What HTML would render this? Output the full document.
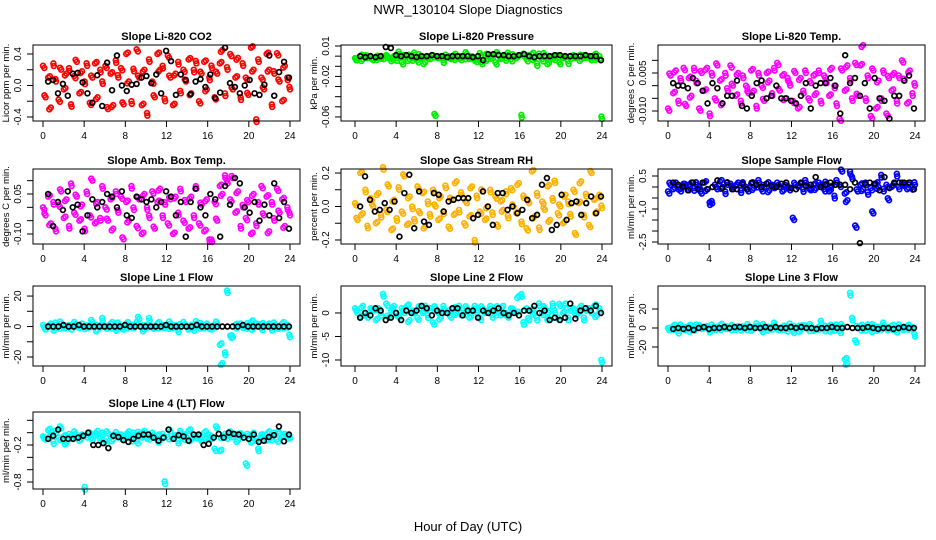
<!DOCTYPE html>
<html><head><meta charset="utf-8"><style>
html,body{margin:0;padding:0;background:#fff}
svg{display:block;font-family:"Liberation Sans",sans-serif}
</style></head><body>
<svg id="c" width="936" height="540" viewBox="0 0 936 540">
<text x="468" y="14" text-anchor="middle" font-size="13">NWR_130104  Slope Diagnostics</text>
<text x="468" y="531" text-anchor="middle" font-size="13">Hour of Day (UTC)</text>
</svg>
<script>
const xTicks=[0,4,8,12,16,20,24];
const co2C=[0.25,-0.15,0.1,-0.28,0.28,0.05,-0.18,0.2,-0.05,0.15,0.22,-0.27,0.12,0.3,-0.1,0.18,0.05,0.25,-0.22,0.1,0.28,-0.15,0.2,0.02,0.25,-0.3,0.15,-0.25,0.32,0.1,0.22,-0.24,0.4,0.05,-0.2,0.18,0.46,0.1,-0.25,0.2,-0.35,0.3,0.05,-0.15,0.4,0.2,0.25,-0.2,0.38,0.1,-0.25,0.15,0.3,-0.1,0.2,0.05,0.33,-0.1,0.2,0.28,-0.2,0.15,0.3,-0.05,0.1,0.22,-0.15,0.15,0.28,0.45,-0.1,0.2,0.4,-0.05,0.1,0.35,-0.15,0.25,0.1,-0.12,0.48,0.2,-0.43,0.3,0.1,-0.05,0.4,0.2,-0.24,0.15,0.41,0.05,-0.2,0.25,0.1,-0.05];
const co2K=[0.05,0.07,-0.1,0.02,-0.13,0.15,0.16,0.04,-0.1,-0.22,0.13,-0.26,0.29,-0.06,0.38,0.0,-0.07,0.01,0.02,0.1,0.12,0.03,0.14,-0.1,0.44,0.31,-0.12,0.14,0.07,-0.11,0.05,0.08,-0.02,0.14,-0.16,-0.09,0.48,0.03,-0.02,-0.1,0.0,0.07,-0.1,-0.12,0.01,0.38,-0.13,0.17,0.3,0.1];
const presC=[-0.002,-0.004,0.0,-0.003,0.001,-0.002,0.0,-0.004,-0.001,-0.002,0.0,-0.003,0.001,-0.002,-0.005,0.0,-0.002,0.002,-0.006,-0.001,0.0,-0.003,-0.002,0.001,-0.004,0.0,-0.002,-0.006,0.0,-0.003,0.001,-0.059,-0.002,0.0,-0.004,-0.001,0.0,-0.003,0.001,-0.002,0.0,-0.004,-0.001,0.002,-0.003,0.0,-0.002,-0.006,0.003,-0.008,0.001,-0.003,0.0,-0.002,-0.006,0.002,-0.003,0.0,-0.002,0.001,-0.003,0.0,-0.002,0.001,-0.058,0.0,-0.003,-0.001,0.002,-0.002,-0.007,0.0,-0.003,0.001,-0.008,-0.002,0.0,-0.004,0.001,-0.008,-0.002,0.0,-0.005,-0.003,0.001,-0.002,0.0,-0.003,0.001,-0.002,0.0,-0.004,0.001,-0.002,0.0,-0.062];
const presK=[0.0,-0.001,0.0,-0.001,0.0,0.009,0.008,0.001,0.0,0.001,0.0,-0.001,0.0,0.0,0.001,0.0,0.0,-0.001,0.0,0.0,0.0,0.0,-0.001,0.0,-0.004,0.002,0.002,0.001,0.001,0.0,0.0,0.001,0.002,0.0,-0.001,0.0,0.0,0.0,0.001,0.001,0.0,0.0,0.0,0.0,0.001,0.0,0.0,-0.004];
const tempC=[-0.009,0.004,-0.003,0.006,-0.006,0.002,0.007,-0.008,0.003,-0.004,0.007,0.001,-0.009,0.005,-0.002,0.007,-0.011,0.004,-0.005,0.008,0.002,-0.007,0.005,-0.002,0.008,0.0,-0.004,0.005,-0.006,0.003,0.0,-0.003,0.006,-0.002,-0.008,0.004,0.0,-0.006,0.005,0.002,-0.003,0.006,0.009,-0.002,0.004,-0.005,0.003,0.0,-0.006,0.005,-0.009,0.003,-0.002,0.005,-0.005,0.001,0.004,-0.003,0.006,-0.007,0.004,0.001,-0.004,0.007,0.0,-0.008,-0.013,0.006,-0.002,0.008,0.003,-0.006,0.009,-0.004,0.008,0.016,-0.005,0.003,-0.012,0.006,-0.009,0.002,-0.005,0.005,-0.011,0.003,-0.002,0.005,-0.006,0.003,0.01,0.002,-0.007,0.006,-0.003,0.0];
const tempK=[0.001,0.0,0.0,-0.001,0.003,0.001,-0.002,-0.007,0.001,-0.001,-0.007,-0.004,-0.004,0.002,-0.008,-0.009,-0.004,0.001,0.002,-0.005,-0.004,0.0,-0.005,-0.005,-0.006,-0.007,-0.004,0.001,-0.009,0.0,0.001,0.001,0.003,0.0,-0.011,0.012,0.001,0.003,-0.004,0.001,-0.009,0.003,-0.005,-0.006,-0.013,-0.004,-0.004,0.002,0.004,-0.009];
const ambC=[0.0,-0.03,0.04,-0.06,0.02,-0.09,0.01,0.06,-0.04,0.03,-0.07,0.08,-0.02,0.04,-0.05,0.01,-0.08,0.05,-0.03,0.1,-0.06,0.02,-0.04,0.07,0.0,-0.05,0.03,-0.08,0.06,-0.02,0.04,-0.12,0.02,-0.05,0.08,-0.01,-0.07,0.03,-0.1,0.05,0.0,-0.04,0.06,-0.08,0.02,0.07,-0.03,0.01,-0.06,0.03,-0.1,0.04,-0.02,0.06,-0.05,0.02,-0.08,0.04,-0.03,0.07,-0.06,0.01,-0.09,0.03,-0.12,-0.13,0.02,-0.05,0.08,0.05,0.12,0.09,0.03,0.11,-0.02,0.06,-0.07,0.0,-0.04,0.02,-0.1,0.05,-0.06,0.01,0.08,-0.03,0.04,-0.09,0.02,-0.05,0.07,-0.02,0.03,-0.07,0.0,-0.03];
const ambK=[0.05,-0.07,0.02,-0.01,0.06,0.0,0.01,-0.09,-0.03,0.03,0.0,0.02,0.05,0.04,0.0,0.06,-0.03,-0.04,0.04,0.03,0.02,0.03,0.0,0.02,0.06,0.04,-0.03,0.02,-0.11,0.02,0.07,0.0,-0.03,0.05,0.03,-0.11,0.08,0.01,0.11,0.09,0.0,-0.02,0.02,-0.05,0.01,-0.03,0.09,-0.04,0.02,-0.08];
const rhC=[0.02,-0.08,0.2,-0.04,0.1,-0.13,0.05,0.0,-0.1,0.08,-0.05,0.22,-0.02,0.12,-0.14,0.04,-0.07,0.1,-0.03,0.18,-0.11,0.06,0.0,-0.09,0.12,-0.04,0.08,-0.12,0.03,-0.06,0.1,0.0,-0.08,0.06,-0.03,0.11,-0.12,0.04,-0.05,0.15,-0.02,0.07,-0.1,0.02,-0.06,0.12,-0.2,0.05,-0.03,0.09,-0.08,0.0,0.1,-0.05,0.06,-0.12,0.03,-0.02,0.09,-0.07,0.11,0.0,-0.04,0.14,-0.09,0.05,-0.13,0.02,0.21,-0.06,0.08,-0.14,0.03,-0.02,0.12,-0.08,0.05,0.14,-0.04,0.0,-0.1,0.07,0.03,-0.06,0.1,-0.17,0.02,0.15,-0.05,0.06,-0.11,0.2,0.04,-0.03,0.07,-0.01];
const rhK=[0.0,0.18,0.04,-0.03,-0.02,0.02,-0.02,0.03,-0.18,0.08,0.19,-0.13,0.09,-0.09,-0.11,0.08,0.07,-0.03,0.03,0.04,0.05,0.05,0.05,-0.07,-0.05,0.09,0.0,-0.11,0.08,0.08,-0.02,0.0,-0.04,-0.02,0.04,-0.07,-0.05,0.13,0.17,-0.14,-0.11,0.07,-0.08,0.02,0.03,-0.05,0.02,0.06,-0.04,0.06];
const sfC=[-0.2,0.1,-0.1,0.2,0.0,-0.2,0.15,0.05,-0.15,0.2,-0.05,0.1,0.0,-0.3,0.2,-0.1,-0.7,-0.75,0.1,-0.1,0.25,0.0,-0.2,0.1,0.15,-0.1,0.05,0.2,-0.15,0.1,0.0,-0.2,0.15,-0.05,0.1,0.2,-0.1,0.0,0.15,-0.15,0.1,-0.05,0.2,0.0,-0.2,0.1,0.05,-0.15,-1.4,0.1,0.0,0.15,-0.1,0.2,0.0,-0.15,0.1,-0.05,0.2,0.0,-0.1,0.15,-0.2,0.05,-0.4,0.2,0.1,0.7,-0.3,-0.6,0.7,0.35,-1.75,-0.2,0.1,-0.1,0.2,-0.35,-0.05,-1.2,0.15,0.0,0.55,-0.2,0.1,-0.6,0.0,0.15,0.6,-0.1,0.2,0.05,-0.1,0.2,0.0,0.1];
const sfK=[0.2,0.1,0.0,-0.15,0.2,-0.1,0.2,-0.1,0.0,0.3,-0.05,0.2,-0.1,-0.1,0.15,-0.1,0.2,0.1,0.0,0.15,0.05,0.0,0.15,0.2,-0.05,-0.1,0.2,0.05,0.1,0.45,0.0,0.1,0.2,0.1,0.1,0.1,-0.1,0.2,-2.55,0.15,0.2,0.15,-0.15,0.45,-0.05,0.2,0.2,0.2,0.2,-0.1];
const l1C=[1,-2,0,2,-1,1,0,2,-1,0,1,-2,3,0,-1,2,0,-1,1,3,0,-2,1,4,0,-1,2,0,-1,1,0,-2,2,0,1,-1,3,5,0,-2,1,4,0,-1,2,0,1,-1,0,2,-1,1,-2,0,3,0,-2,1,-1,2,0,1,-1,2,0,-2,1,2,-12,-24,-17,22,-6,-7,1,0,2,-1,0,1,3,-1,2,0,-1,1,0,2,-1,1,0,-1,2,0,1,-7];
const l1K=[0,0,0,1,0,0,1,0,0,0,0,0,0,0,0,1,0,0,0,0,0,0,0,1,0,0,0,0,0,1,0,0,0,0,0,0,0,0,1,0,0,0,0,0,0,0,0,0];
const l2C=[1,0,-1,1.5,0,-1,1,0.5,-1.5,1,0,3.5,2,-1,0.5,1.5,0,-1,1,0,1.5,-1.5,0.5,0,-1,1,0,1.5,-0.5,0.5,-2,1,0,-1,1.5,0,0.5,-1,1,0,1.5,-0.5,0,1,-1,0.5,1.5,0,-1,1,0,0.5,1.5,-1,0,1,-0.5,1.5,0,-1,1,0.5,0,3.6,4,-2.5,1,-1.5,0.5,0,-1,1.5,0,1,-1.5,0.5,2,0,-1,1.5,0,2,-1,0.5,1,-0.5,0,1.5,-1,0.5,1,0,1.5,-0.5,1,-10.5];
const l2K=[-1,0,-0.5,1,0.5,-1.5,-1,0,-1.5,0.5,0,0.5,1.5,1,-0.5,0.5,0,0,1,1,-0.5,0.5,0.5,-1,0.5,0,0.5,1,0,-0.5,0,-0.5,0.5,0.5,1.5,0,0.5,-1.5,-1,-1.5,-1,2,-1.2,0.5,1,0.5,1.5,0];
const l3C=[0,-2,2,0,-3,1,0,-1,2,-2,0,1,3,-1,0,2,-2,1,0,-1,3,0,2,-1,0,1,-2,2,0,-1,0,2,-3,1,5,0,-2,2,0,-1,1,3,0,-2,1,0,-1,2,-3,0,1,-2,3,0,-1,2,-3,0,1,5,-1,0,2,-2,0,1,-3,2,-33,-37,37,8,-13,0,2,-1,0,1,-2,2,0,-1,1,3,0,-1,2,0,-2,1,0,-1,2,0,1,-9];
const l3K=[-1,0,-1,0,-2,0,1,-1,0,0,1,0,1,1,0,1,0,0,1,0,1,0,0,1,0,1,0,0,-1,0,0,1,0,0,1,0,0,0,1,0,-1,0,0,-1,0,1,0,0];
const l4C=[-0.06,-0.11,0.04,-0.04,-0.14,-0.01,-0.08,0.07,-0.06,-0.16,-0.02,-0.1,0.02,-0.07,-0.13,-0.03,-0.88,-0.08,0.0,-0.12,-0.05,0.03,-0.09,-0.04,-0.14,-0.01,-0.07,-0.11,0.01,-0.08,-0.03,-0.12,-0.06,0.02,-0.1,-0.04,-0.14,-0.02,-0.08,0.03,-0.06,-0.11,0.0,-0.09,-0.05,-0.13,-0.02,-0.83,-0.07,0.02,-0.1,-0.04,-0.13,-0.01,-0.08,-0.06,0.03,-0.11,-0.03,-0.09,-0.05,-0.14,0.0,-0.07,-0.04,-0.1,-0.26,0.07,-0.3,-0.06,-0.02,-0.1,0.02,-0.07,-0.04,-0.12,-0.01,-0.08,-0.5,-0.05,-0.16,0.0,-0.09,-0.3,-0.03,-0.06,-0.13,0.02,-0.08,-0.04,-0.11,-0.01,-0.07,-0.02,-0.06,-0.09];
const l4K=[-0.1,-0.05,0.05,-0.1,-0.1,-0.1,-0.08,-0.05,0.0,-0.2,-0.2,-0.17,-0.25,-0.05,-0.07,-0.12,-0.15,-0.1,-0.05,-0.03,-0.03,-0.08,-0.13,-0.08,0.05,-0.1,-0.04,-0.06,-0.13,-0.03,-0.03,-0.2,-0.18,-0.08,-0.02,-0.08,0.0,-0.02,-0.03,-0.08,-0.1,-0.03,-0.15,-0.13,-0.07,-0.04,0.1,-0.14,-0.03];

const NS='http://www.w3.org/2000/svg';
const svg=document.getElementById('c');
function mk(tag,attrs,parent){const e=document.createElementNS(NS,tag);for(const k in attrs)e.setAttribute(k,attrs[k]);(parent||svg).appendChild(e);return e;}
const cols=[{l:33,r:300,x0:43,x24:290},{l:341,r:612,x0:355,x24:602},{l:658,r:925,x0:668,x24:915}];
const rows=[{t:45,b:121},{t:169,b:244},{t:286,b:366},{t:412,b:489}];
const jit=[[1.3,2.2],[-1.2,-2.0],[1.6,-1.4],[-1.5,1.8],[0.4,2.6],[-0.6,-2.5]];
const panels=[
 {name:'co2',title:'Slope Li-820 CO2',yl:'Licor ppm per min.',c:0,r:0,ymin:-0.451,ymax:0.514,ticks:[-0.4,-0.2,0,0.2,0.4],labs:['-0.4','0.0','0.4'],col:'#ff0000',C:co2C,K:co2K},
 {name:'pressure',title:'Slope Li-820 Pressure',yl:'kPa per min.',c:1,r:0,ymin:-0.064,ymax:0.011,ticks:[-0.06,-0.05,-0.04,-0.03,-0.02,-0.01,0,0.01],labs:['-0.06','-0.02','0.01'],col:'#00ee00',C:presC,K:presK},
 {name:'li820-temp',title:'Slope Li-820 Temp.',yl:'degrees C per min.',c:2,r:0,ymin:-0.01395,ymax:0.01605,ticks:[-0.01,-0.005,0,0.005,0.01],labs:['-0.010','0.005'],col:'#ff00ff',C:tempC,K:tempK},
 {name:'amb-box-temp',title:'Slope Amb. Box Temp.',yl:'degrees C per min.',c:0,r:1,ymin:-0.1375,ymax:0.1437,ticks:[-0.1,-0.05,0,0.05,0.1],labs:['-0.10','0.05'],col:'#ff00ff',C:ambC,K:ambK},
 {name:'gas-rh',title:'Slope Gas Stream RH',yl:'percent per min.',c:1,r:1,ymin:-0.224,ymax:0.224,ticks:[-0.2,-0.1,0,0.1,0.2],labs:['-0.2','0.0','0.2'],col:'#ffb000',C:rhC,K:rhK},
 {name:'sample-flow',title:'Slope Sample Flow',yl:'ml/min per min.',c:2,r:1,ymin:-2.59,ymax:0.818,ticks:[-2.5,-2,-1.5,-1,-0.5,0,0.5],labs:['-2.5','-1.0','0.5'],col:'#0000ff',C:sfC,K:sfK},
 {name:'line1-flow',title:'Slope Line 1 Flow',yl:'ml/min per min.',c:0,r:2,ymin:-25.9,ymax:26.6,ticks:[-20,-10,0,10,20],labs:['-20','0','20'],col:'#00ffff',C:l1C,K:l1K},
 {name:'line2-flow',title:'Slope Line 2 Flow',yl:'ml/min per min.',c:1,r:2,ymin:-11.28,ymax:5.74,ticks:[-10,-5,0],labs:['-10','-5','0'],col:'#00ffff',C:l2C,K:l2K},
 {name:'line3-flow',title:'Slope Line 3 Flow',yl:'ml/min per min.',c:2,r:2,ymin:-40,ymax:44.2,ticks:[-20,0,20],labs:['-20','0','20'],col:'#00ffff',C:l3C,K:l3K},
 {name:'line4-flow',title:'Slope Line 4 (LT) Flow',yl:'ml/min per min.',c:0,r:3,ymin:-0.913,ymax:0.335,ticks:[-0.8,-0.6,-0.4,-0.2,0,0.2],labs:['-0.8','-0.2'],col:'#00ffff',C:l4C,K:l4K}
];
panels.forEach(p=>{
 const cl=cols[p.c],rw=rows[p.r];
 const g=mk('g',{});
 
 
 const xs=h=>cl.x0+(cl.x24-cl.x0)*h/24;
 const ys=v=>rw.b-(v-p.ymin)/(p.ymax-p.ymin)*(rw.b-rw.t);
 const t=mk('text',{x:(cl.l+cl.r)/2,y:rw.t-5,'text-anchor':'middle','font-size':'11','font-weight':'bold'},g);
 t.textContent=p.title;
 
 
 const cy=(rw.t+rw.b)/2;
 const yt=mk('text',{x:0,y:0,'text-anchor':'middle','font-size':'9.5'},g);
 yt.textContent=p.yl;
 
 
 yt.setAttribute('transform',`translate(${cl.l-24},${cy}) rotate(-90)`);
 const sg=mk('g',{fill:'none',stroke:p.col,'stroke-width':'1.7'},g);
 
 
 p.C.forEach((v,i)=>{const h=i*24/(p.C.length-1);const c=mk('circle',{cx:xs(h),cy:ys(v),r:2.4},sg);
  
  
  const j=jit[i%jit.length];
  const c2=mk('circle',{cx:xs(h)+j[0],cy:ys(v)+j[1],r:2.4},sg);
  
  });
 const kg=mk('g',{fill:'none',stroke:'#000','stroke-width':'1.7'},g);
 
 
 p.K.forEach((v,i)=>{const h=0.5+i*23.4/(p.K.length-1);const c=mk('circle',{cx:xs(h),cy:ys(v),r:2.4},kg);
  
  });
 const box=mk('rect',{x:cl.l,y:rw.t,width:cl.r-cl.l,height:rw.b-rw.t,fill:'none',stroke:'#000','stroke-width':'1'},g);
 
 
 const ax=mk('g',{stroke:'#000','stroke-width':'1'},g);
 
 
 xTicks.forEach(h=>{mk('line',{x1:xs(h),x2:xs(h),y1:rw.b,y2:rw.b+6},ax);
  const tx=mk('text',{x:xs(h),y:rw.b+18,'text-anchor':'middle','font-size':'10',stroke:'none'},ax);
  tx.textContent=h;
  
  });
 p.ticks.forEach(v=>{mk('line',{x1:cl.l-6,x2:cl.l,y1:ys(v),y2:ys(v)},ax);});
 p.labs.forEach(s=>{const v=parseFloat(s);const tx=mk('text',{x:0,y:0,transform:`translate(${cl.l-12},${ys(v)}) rotate(-90)`,'text-anchor':'middle','font-size':'10',stroke:'none'},ax);
  tx.textContent=s;
  
  });
});
</script>
</body></html>
